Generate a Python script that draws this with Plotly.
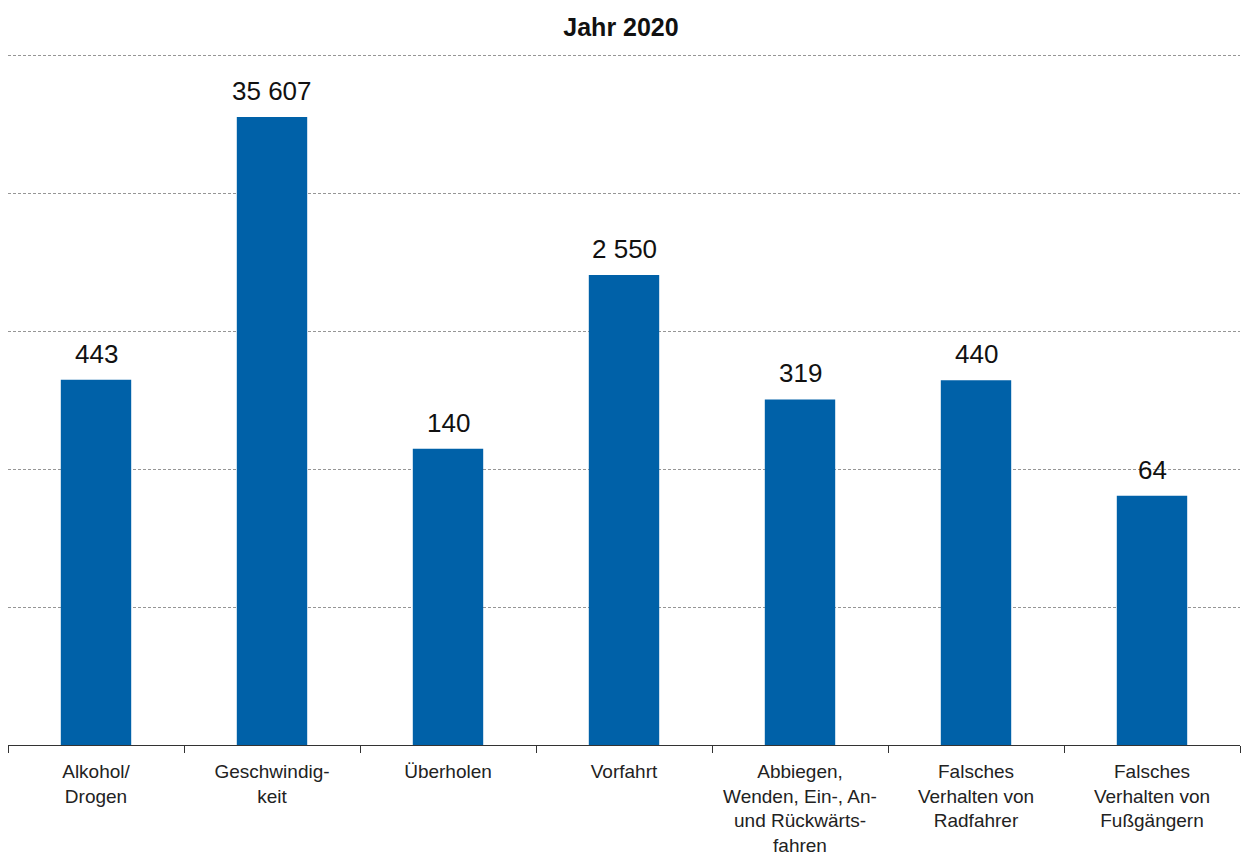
import math
import plotly.graph_objects as go

# Unfallursachen, Jahr 2020
categories = [
    "Alkohol/<br>Drogen",
    "Geschwindig-<br>keit",
    "Überholen",
    "Vorfahrt",
    "Abbiegen,<br>Wenden, Ein-, An-<br>und Rückwärts-<br>fahren",
    "Falsches<br>Verhalten von<br>Radfahrer",
    "Falsches<br>Verhalten von<br>Fußgängern",
]
values = [443, 35607, 140, 2550, 319, 440, 64]

font_family = "Liberation Sans, Arial, sans-serif"
bar_color = "#0061a8"

fig = go.Figure()
fig.add_trace(go.Bar(
    x=categories,
    y=values,
    marker=dict(color=bar_color, line=dict(width=0)),
    hoverinfo="x+y",
))

# value labels above each bar
for cat, v in zip(categories, values):
    fig.add_annotation(
        x=cat, y=math.log10(v), xref="x", yref="y",
        text=f"{v:,}".replace(",", " "),
        showarrow=False, yanchor="bottom", yshift=9,
        font=dict(family=font_family, size=26, color="#111111"),
    )

# 138 px per decade; the axis runs a few px past 10^5 so that gridline is kept
px_per_decade = 138
plot_h = 693
y_top = plot_h / px_per_decade

fig.update_layout(
    width=1242, height=855,
    margin=dict(l=8, r=2, t=745 - plot_h, b=110),
    paper_bgcolor="white", plot_bgcolor="white",
    bargap=0.6,
    showlegend=False,
    title=dict(
        text="<b>Jahr 2020</b>",
        x=0.5, xanchor="center", y=1 - 27 / 855, yanchor="middle",
        font=dict(family=font_family, size=25, color="#111111"),
    ),
    font=dict(family=font_family),
)

fig.update_xaxes(
    type="category",
    showline=True, linecolor="#333333", linewidth=1.2,
    ticks="outside", tickson="boundaries", ticklen=7,
    tickcolor="#333333", tickwidth=1.2,
    ticklabelstandoff=9,
    tickfont=dict(family=font_family, size=19, color="#222222"),
    showgrid=False, automargin=False,
)

fig.update_yaxes(
    type="log", range=[0, y_top],
    showgrid=True, gridcolor="#969696", griddash="3px,2px", gridwidth=1,
    dtick=1, showticklabels=False, ticks="",
    zeroline=False, showline=False, automargin=False,
)

fig.write_html("out.html")
